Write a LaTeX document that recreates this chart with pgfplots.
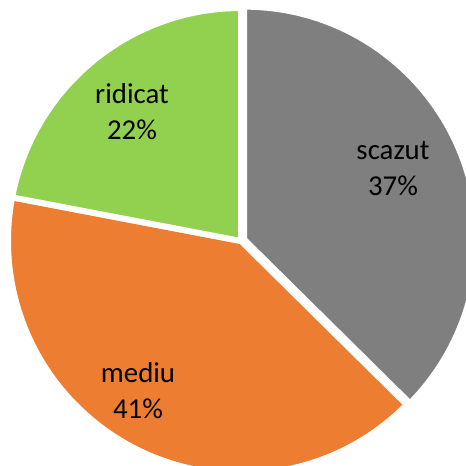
\documentclass[border=0pt]{standalone}
\usepackage{pgfplots}
\pgfplotsset{compat=1.18}
\usepackage{fontspec}
\setmainfont{Carlito}
\definecolor{cgray}{HTML}{7F7F7F}
\definecolor{corange}{HTML}{ED7D31}
\definecolor{cgreen}{HTML}{92D050}
% data (percent, labels show rounded values)
\def\vScazut{37.4}
\def\vMediu{40.6}
\def\vRidicat{22.0}
\begin{document}
\begin{tikzpicture}
\pgfmathsetmacro\aA{90}
\pgfmathsetmacro\aB{90-3.6*\vScazut}
\pgfmathsetmacro\aC{\aB-3.6*\vMediu}
\pgfmathsetmacro\aD{\aC-3.6*\vRidicat}
\pgfmathsetmacro\mA{(\aA+\aB)/2}
\begin{axis}[x=1pt,y=1pt,xmin=0,xmax=466,ymin=0,ymax=466,hide axis,clip=true]
\fill[cgray,draw=white,line width=6pt,shift={(\mA:3.5pt)}] (axis cs:241,225) -- ++(\aA:233pt) arc[start angle=\aA,end angle=\aB,radius=233pt] -- cycle;
\fill[corange,draw=white,line width=6pt] (axis cs:241,225) -- ++(\aB:233pt) arc[start angle=\aB,end angle=\aC,radius=233pt] -- cycle;
\fill[cgreen,draw=white,line width=6pt] (axis cs:241,225) -- ++(\aC:233pt) arc[start angle=\aC,end angle=\aD,radius=233pt] -- cycle;
\node[align=center,font=\fontsize{28.8}{36}\selectfont] at (axis cs:393,297) {scazut\\37\%};
\node[align=center,font=\fontsize{28.8}{36}\selectfont] at (axis cs:132,354) {ridicat\\22\%};
\node[align=center,font=\fontsize{28.8}{36}\selectfont] at (axis cs:138,75) {mediu\\41\%};
\end{axis}
\pgfresetboundingbox
\path (current axis.south west) rectangle (current axis.north east);
\end{tikzpicture}
\end{document}
